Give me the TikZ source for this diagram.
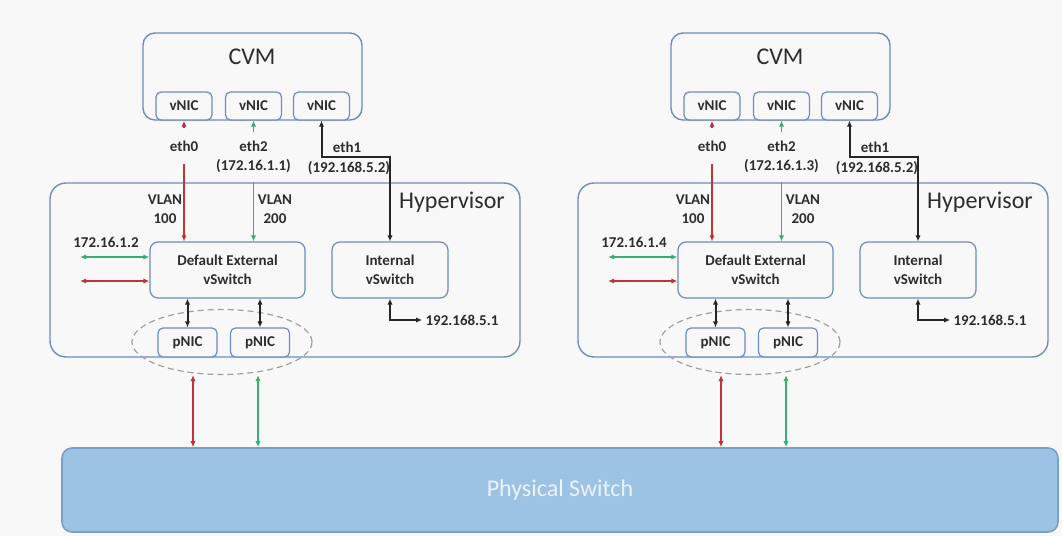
\documentclass[tikz,border=0pt]{standalone}
\usepackage{fontspec}
\setmainfont{Carlito}
\usetikzlibrary{arrows.meta,shapes.geometric,positioning}
\definecolor{bgcol}{RGB}{248,248,248}
\definecolor{boxcol}{RGB}{110,140,190}
\definecolor{vlanred}{RGB}{195,50,55}
\definecolor{vlangreen}{RGB}{55,175,115}
\definecolor{swfill}{RGB}{157,195,228}
\definecolor{swdraw}{RGB}{122,160,202}
\definecolor{swtext}{RGB}{236,243,250}
\definecolor{txtcol}{RGB}{45,45,45}
\newcommand{\lblfont}{\fontsize{7.5}{9.5}\selectfont\bfseries}
\newcommand{\bigfont}{\fontsize{12}{14}\selectfont}
\tikzset{
  hostbox/.style={draw=boxcol, line width=0.7pt, rounded corners=8pt, fill=bgcol},
  nic/.style={draw=boxcol, line width=0.6pt, rounded corners=2.5pt, fill=bgcol, text=txtcol, font=\lblfont, minimum width=28pt, minimum height=14pt, inner sep=0pt},
  swbox/.style={draw=boxcol, line width=0.6pt, rounded corners=4pt, fill=bgcol, text=txtcol, font=\lblfont, align=center, minimum height=28pt, inner sep=0pt},
  lbl/.style={text=txtcol, font=\lblfont, align=center, inner sep=1.5pt},
  title/.style={text=txtcol, font=\bigfont, inner sep=0pt},
  bond/.style={ellipse, draw=gray!75, dash pattern=on 3pt off 2pt, line width=0.6pt, minimum width=90pt, minimum height=32.5pt},
  redl/.style={draw=vlanred, line width=0.8pt},
  grnl/.style={draw=vlangreen, line width=0.8pt},
  blkl/.style={draw=black!85, line width=1pt}
}

\begin{document}
\begin{tikzpicture}[x=0.5pt,y=-0.5pt,>={Latex[length=3pt,width=2.6pt]}]
\fill[bgcol] (0,0) rectangle (1062,536);
\useasboundingbox (0,0) rectangle (1062,536);
%physical switch
\node[draw=swdraw, fill=swfill, line width=0.8pt, rounded corners=5pt, minimum width=498pt, minimum height=42pt, text=swtext, font=\bigfont] (phys) at (560,490) {Physical Switch};
%host a
\begin{scope}
\node[hostbox, minimum width=235pt, minimum height=87pt] (hypa) at (285,270) {};
\node[title] (hypta) at (452,202) {Hypervisor};
\node[hostbox, rounded corners=6pt, minimum width=109.5pt, minimum height=43.5pt] (cvma) at (252.5,76.5) {};
\node[title] (cvmta) at (252,57) {CVM};
\node[nic] (va1) at (184,106) {vNIC};
\node[nic] (va2) at (253.5,106) {vNIC};
\node[nic] (va3) at (321.5,106) {vNIC};
\node[lbl, minimum height=18pt] (eth0a) at (184,146) {eth0};
\node[lbl, minimum height=25pt] (eth2a) at (253.5,157) {eth2\\(172.16.1.1)};
\node[lbl] (eth1a) at (347,147) {eth1};
\node[lbl] (ipa2) at (349,168) {(192.168.5.2)};
\node[lbl] (vlana1) at (165,209) {VLAN\\100};
\node[lbl] (vlana2) at (275,209) {VLAN\\200};
\node[swbox, minimum width=77.5pt] (dsa) at (227.5,270) {Default External\\vSwitch};
\node[swbox, minimum width=58pt] (isa) at (390,270) {Internal\\vSwitch};
\node[lbl] (ipa1) at (106,242) {172.16.1.2};
\node[lbl] (ipa3) at (462,320) {192.168.5.1};
\node[nic, minimum width=29.5pt, minimum height=14.5pt] (pa1) at (187.5,342.5) {pNIC};
\node[nic, minimum width=29.5pt, minimum height=14.5pt] (pa2) at (260,342.5) {pNIC};
\node[bond] (bonda) at (222,342) {};
\coordinate (ka) at (390,157);
\coordinate (ga) at (80,257);
\coordinate (ra) at (80,281);
\draw[redl, <-] (va1.south) -- (eth0a.north);
\draw[redl, ->] (eth0a.south) -- (eth0a.south |- dsa.north);
\draw[grnl, <-] (va2.south) -- (eth2a.north);
\draw[grnl, ->] (eth2a.south) -- (eth2a.south |- dsa.north);
\draw[blkl, <->] (va3.south) |- (ka) -- (isa.north);
\draw[grnl, <->] (ga) -- (ga -| dsa.west);
\draw[redl, <->] (ra) -- (ra -| dsa.west);
\draw[blkl, <->] (pa1.north) -- (pa1.north |- dsa.south);
\draw[blkl, <->] (pa2.north) -- (pa2.north |- dsa.south);
\draw[blkl, <->] (isa.south) |- (ipa3.west);
\draw[redl, <->] ([xshift=2.75pt]pa1.south |- bonda.south) -- ([xshift=2.75pt]pa1.south |- phys.north);
\draw[grnl, <->] ([xshift=-1pt]pa2.south |- bonda.south) -- ([xshift=-1pt]pa2.south |- phys.north);
\end{scope}
%host b
\begin{scope}[shift={(528,0)}]
\node[hostbox, minimum width=235pt, minimum height=87pt] (hypb) at (285,270) {};
\node[title] (hyptb) at (452,202) {Hypervisor};
\node[hostbox, rounded corners=6pt, minimum width=109.5pt, minimum height=43.5pt] (cvmb) at (252.5,76.5) {};
\node[title] (cvmtb) at (252,57) {CVM};
\node[nic] (vb1) at (184,106) {vNIC};
\node[nic] (vb2) at (253.5,106) {vNIC};
\node[nic] (vb3) at (321.5,106) {vNIC};
\node[lbl, minimum height=18pt] (eth0b) at (184,146) {eth0};
\node[lbl, minimum height=25pt] (eth2b) at (253.5,157) {eth2\\(172.16.1.3)};
\node[lbl] (eth1b) at (347,147) {eth1};
\node[lbl] (ipb2) at (349,168) {(192.168.5.2)};
\node[lbl] (vlanb1) at (165,209) {VLAN\\100};
\node[lbl] (vlanb2) at (275,209) {VLAN\\200};
\node[swbox, minimum width=77.5pt] (dsb) at (227.5,270) {Default External\\vSwitch};
\node[swbox, minimum width=58pt] (isb) at (390,270) {Internal\\vSwitch};
\node[lbl] (ipb1) at (106,242) {172.16.1.4};
\node[lbl] (ipb3) at (462,320) {192.168.5.1};
\node[nic, minimum width=29.5pt, minimum height=14.5pt] (pb1) at (187.5,342.5) {pNIC};
\node[nic, minimum width=29.5pt, minimum height=14.5pt] (pb2) at (260,342.5) {pNIC};
\node[bond] (bondb) at (222,342) {};
\coordinate (kb) at (390,157);
\coordinate (gb) at (80,257);
\coordinate (rb) at (80,281);
\draw[redl, <-] (vb1.south) -- (eth0b.north);
\draw[redl, ->] (eth0b.south) -- (eth0b.south |- dsb.north);
\draw[grnl, <-] (vb2.south) -- (eth2b.north);
\draw[grnl, ->] (eth2b.south) -- (eth2b.south |- dsb.north);
\draw[blkl, <->] (vb3.south) |- (kb) -- (isb.north);
\draw[grnl, <->] (gb) -- (gb -| dsb.west);
\draw[redl, <->] (rb) -- (rb -| dsb.west);
\draw[blkl, <->] (pb1.north) -- (pb1.north |- dsb.south);
\draw[blkl, <->] (pb2.north) -- (pb2.north |- dsb.south);
\draw[blkl, <->] (isb.south) |- (ipb3.west);
\draw[redl, <->] ([xshift=2.75pt]pb1.south |- bondb.south) -- ([xshift=2.75pt]pb1.south |- phys.north);
\draw[grnl, <->] ([xshift=-1pt]pb2.south |- bondb.south) -- ([xshift=-1pt]pb2.south |- phys.north);
\end{scope}
\end{tikzpicture}
\end{document}
